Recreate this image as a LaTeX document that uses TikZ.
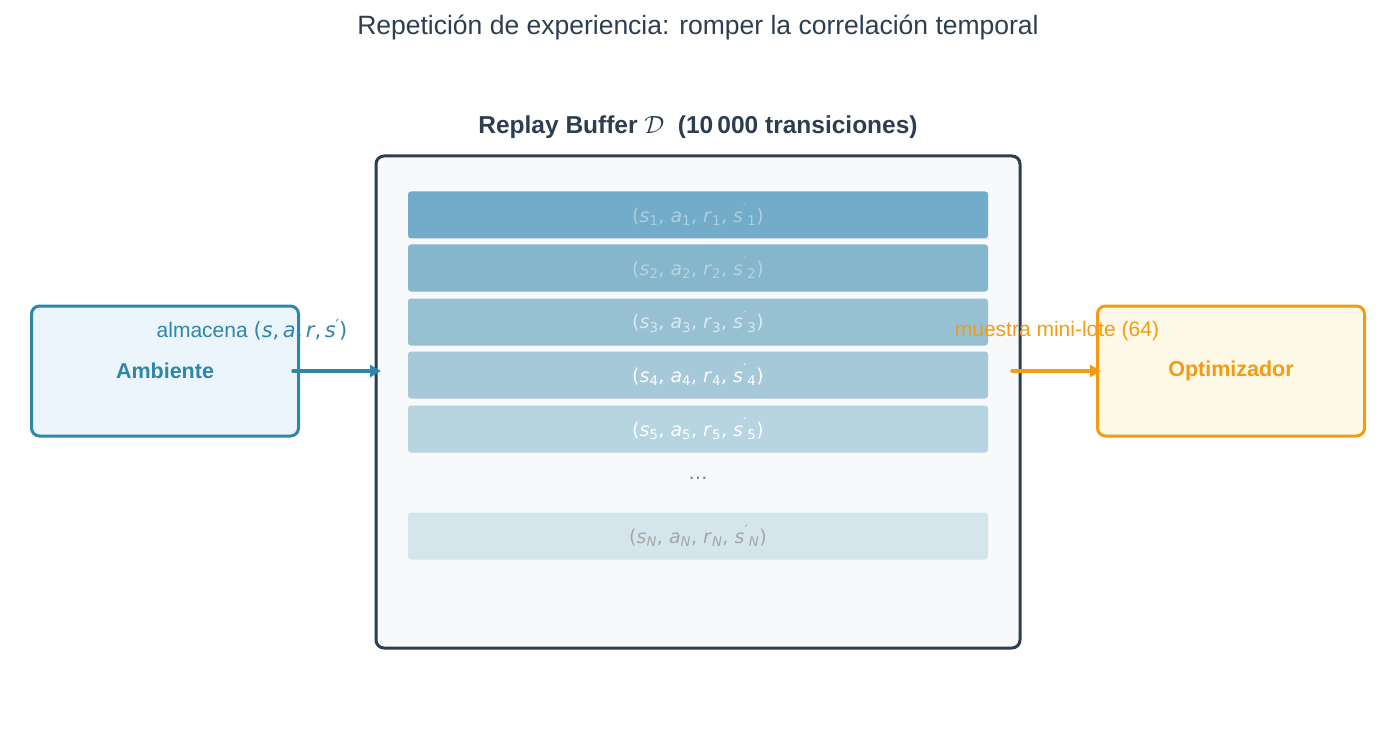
\documentclass[tikz,border=0pt]{standalone}
\usepackage{fontspec}
\setmainfont{Liberation Sans}
\newfontfamily\dvs{DejaVu Sans}
\usetikzlibrary{arrows.meta}
\definecolor{dark}{HTML}{2C3E50}
\definecolor{blu}{HTML}{2E86AB}
\definecolor{ora}{HTML}{F39C12}
\definecolor{rA}{HTML}{73ACC8}
\definecolor{rB}{HTML}{85B6CC}
\definecolor{rC}{HTML}{97C0D3}
\definecolor{rD}{HTML}{A6C9D9}
\definecolor{rE}{HTML}{B7D4E1}
\definecolor{rN}{HTML}{D4E5EC}
\newcommand{\tup}[1]{{\dvs(\textit{s}\textsubscript{#1},\ \textit{a}\textsubscript{#1},\ \textit{r}\textsubscript{#1},\ \textit{s}\kern0.5pt\raisebox{0.45em}{\fontsize{13}{13}\selectfont\textit{\char"2032}}\kern1pt\textsubscript{#1})}}
\begin{document}
\begin{tikzpicture}[x=1pt,y=-1pt,
  rowbox/.style={draw=none,rounded corners=3pt,minimum width=580pt,minimum height=47pt,font=\fontsize{19}{22}\selectfont,inner sep=0pt},
  sidebox/.style={line width=3pt,rounded corners=8pt,minimum width=267pt,minimum height=130pt,font=\bfseries\fontsize{21.5}{25}\selectfont},
  arr/.style={line width=3.5pt,-{Triangle[length=11pt,width=12pt]},line cap=round}]
\useasboundingbox (0,0) rectangle (1396,751);
\node (title) at (698,27) {\fontsize{26.5}{30}\selectfont\color{dark}Repetición de experiencia: romper la correlación temporal};
\node (blabel) at (698,127) {\bfseries\fontsize{24.5}{28}\selectfont\color{dark}Replay Buffer $\mathcal{D}$\ \ (10\,000 transiciones)};
\node[draw=dark,line width=3pt,fill={rgb,255:red,247;green,249;blue,251},rounded corners=8pt,minimum width=644pt,minimum height=492pt,inner sep=0pt] (buf) at (698,402) {};
\node[rowbox,fill=rA,text=white,text opacity=0.4] (r1) at (698,215) {\tup{1}};
\node[rowbox,fill=rB,text=white,text opacity=0.4] (r2) at (698,268) {\tup{2}};
\node[rowbox,fill=rC,text=white,text opacity=0.65] (r3) at (698,322) {\tup{3}};
\node[rowbox,fill=rD,text=white] (r4) at (698,375) {\tup{4}};
\node[rowbox,fill=rE,text=white] (r5) at (698,429) {\tup{5}};
\node[text=gray] (dots) at (698,478) {\dvs\fontsize{19}{20}\selectfont\dots};
\node[rowbox,fill=rN,text=gray!70] (rn) at (698,536) {\tup{\textit{N}}};
\node[sidebox,draw=blu,fill={rgb,255:red,235;green,245;blue,251},text=blu] (env) at (165,371) {Ambiente};
\node[sidebox,draw=ora,fill={rgb,255:red,254;green,249;blue,231},text=ora] (opt) at (1231,371) {Optimizador};
\coordinate (a1) at (293,371);
\coordinate (a2) at (381,371);
\coordinate (b1) at (1012,371);
\coordinate (b2) at (1101,371);
\draw[arr,blu] (a1) -- (a2);
\draw[arr,ora] (b1) -- (b2);
\node[text=blu,font=\fontsize{21}{24}\selectfont] (l1) at (252,330) {almacena {\dvs(\textit{s},\,\textit{a},\,\textit{r},\,\textit{s}\raisebox{0.35em}{\fontsize{15}{15}\selectfont\char"2032})}};
\node[text=ora,font=\fontsize{21}{24}\selectfont] (l2) at (1057,331) {muestra mini-lote (64)};
\end{tikzpicture}
\end{document}
